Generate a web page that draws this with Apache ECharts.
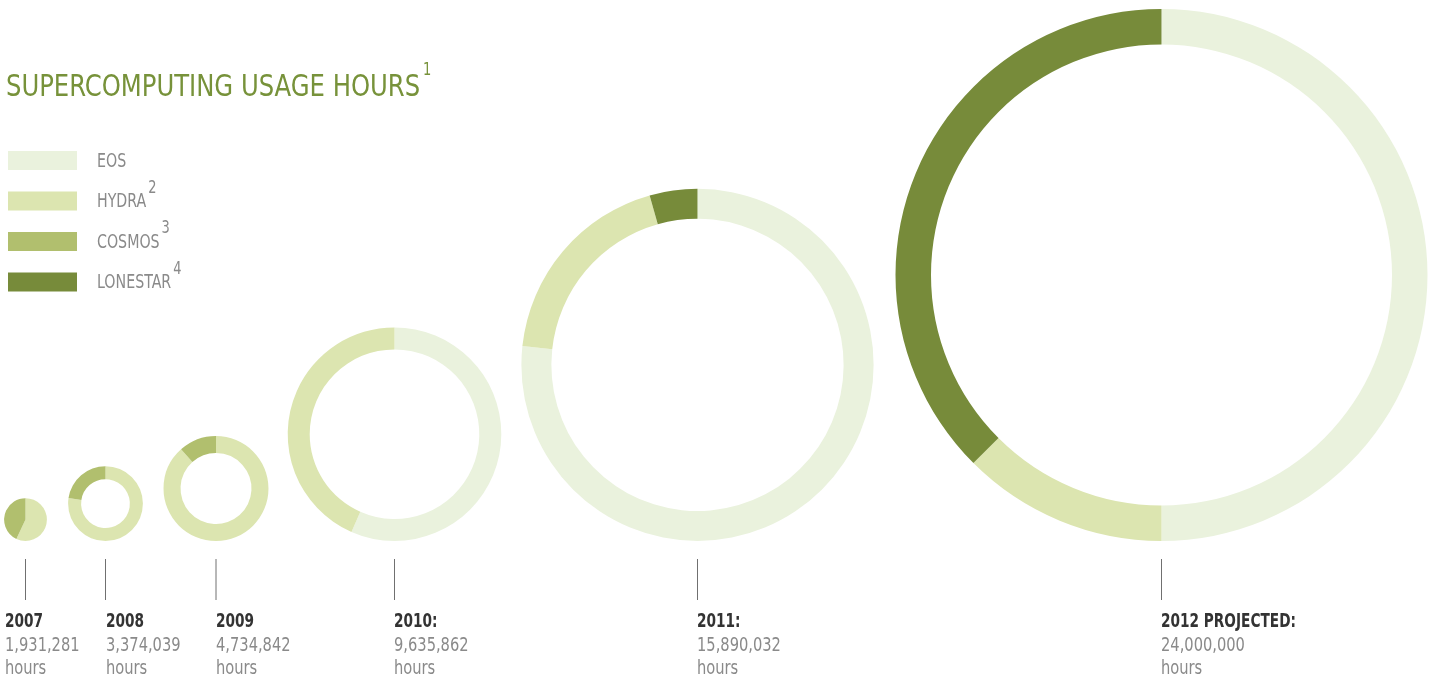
<!DOCTYPE html>
<html>
<head>
<meta charset="utf-8">
<title>Supercomputing usage hours</title>
<script src="https://cdn.jsdelivr.net/npm/echarts@6/dist/echarts.min.js"></script>
<style>
  html, body { margin: 0; padding: 0; background: #fff; }
  #chart { width: 1435px; height: 677px; }
</style>
</head>
<body>
<div id="chart"></div>
<script>
// data
var years = ['2007', '2008', '2009', '2010:', '2011:', '2012 PROJECTED:'];
var totals = [1931281, 3374039, 4734842, 9635862, 15890032, 24000000];
var systems = ['EOS', 'HYDRA', 'COSMOS', 'LONESTAR'];
var footnotes = ['', '2', '3', '4'];
var eos = [0, 0, 0, 5454000, 12188000, 12000000];
var hydra = [1101281, 2612039, 4185842, 4181862, 3006032, 3000000];
var cosmos = [830000, 762000, 549000, 0, 0, 0];
var lonestar = [0, 0, 0, 0, 696000, 9000000];

// layout
var colors = ['#eaf2dd', '#dce5b0', '#b1bf6e', '#778b3a'];
var centersX = [25.5, 105.5, 216, 394.5, 697.5, 1161.5];
var labelX = [5, 106, 216, 394, 697, 1161];
var ringWidth = [0, 13, 17, 22, 30, 35.5];
var baseY = 541;
var pxPerHour = 266 / 24000000;
var FONT = '"DejaVu Sans Condensed", "DejaVu Sans", sans-serif';
var GREY = '#8a8a8a';
var TITLE_GREEN = '#77923a';

function fmt(n) {
  return String(n).replace(/\B(?=(\d{3})+(?!\d))/g, ',');
}

// width of a string, used to hang the footnote marks after it
var measureCtx = document.createElement('canvas').getContext('2d');
function textWidth(str, size) {
  measureCtx.font = size + 'px ' + FONT;
  return measureCtx.measureText(str).width;
}

var chart = echarts.init(document.getElementById('chart'), null, { renderer: 'canvas' });

var series = years.map(function (y, i) {
  var r = totals[i] * pxPerHour;
  var inner = ringWidth[i] ? r - ringWidth[i] : 0;
  var vals = [eos[i], hydra[i], cosmos[i], lonestar[i]];
  var data = [];
  vals.forEach(function (v, k) {
    if (v > 0) data.push({ name: systems[k], value: v, itemStyle: { color: colors[k] } });
  });
  return {
    type: 'pie',
    name: y,
    center: [centersX[i], baseY - r],
    radius: [inner, r],
    startAngle: 90,
    clockwise: true,
    label: { show: false },
    labelLine: { show: false },
    emphasis: { disabled: true },
    itemStyle: { borderWidth: 0 },
    data: data
  };
});

var graphics = [];
// title
var titleText = 'SUPERCOMPUTING USAGE HOURS';
graphics.push({
  type: 'text', x: 6, y: 73, scaleX: 0.9,
  style: { text: titleText, fill: TITLE_GREEN, fontSize: 30, fontFamily: FONT }
});
graphics.push({
  type: 'text', x: 6 + textWidth(titleText, 30) * 0.9 + 3, y: 62, scaleX: 0.85,
  style: { text: '1', fill: TITLE_GREEN, fontSize: 17, fontFamily: FONT }
});
// legend
systems.forEach(function (s, k) {
  var top = 151 + k * 40.5;
  graphics.push({ type: 'rect', shape: { x: 8, y: top, width: 69, height: 19 }, style: { fill: colors[k] } });
  graphics.push({
    type: 'text', x: 97, y: top + 0.5, scaleX: 0.79,
    style: { text: s, fill: GREY, fontSize: 20, fontFamily: FONT }
  });
  if (footnotes[k]) {
    graphics.push({
      type: 'text', x: 97 + textWidth(s, 20) * 0.79 + 2, y: top - 12.5, scaleX: 0.8,
      style: { text: footnotes[k], fill: GREY, fontSize: 18, fontFamily: FONT }
    });
  }
});
// ticks and year labels
years.forEach(function (y, i) {
  graphics.push({ type: 'line', shape: { x1: centersX[i], y1: 559, x2: centersX[i], y2: 600 }, style: { stroke: '#707070', lineWidth: 1 } });
  graphics.push({ type: 'text', x: labelX[i], y: 613, scaleX: 0.8, style: { text: y, fill: '#333333', fontSize: 19, fontWeight: 'bold', fontFamily: FONT } });
  graphics.push({ type: 'text', x: labelX[i], y: 636, scaleX: 0.815, style: { text: fmt(totals[i]), fill: GREY, fontSize: 20, fontFamily: FONT } });
  graphics.push({ type: 'text', x: labelX[i], y: 659, scaleX: 0.815, style: { text: 'hours', fill: GREY, fontSize: 20, fontFamily: FONT } });
});

chart.setOption({
  animation: false,
  backgroundColor: '#ffffff',
  series: series,
  graphic: graphics
});
</script>
</body>
</html>
